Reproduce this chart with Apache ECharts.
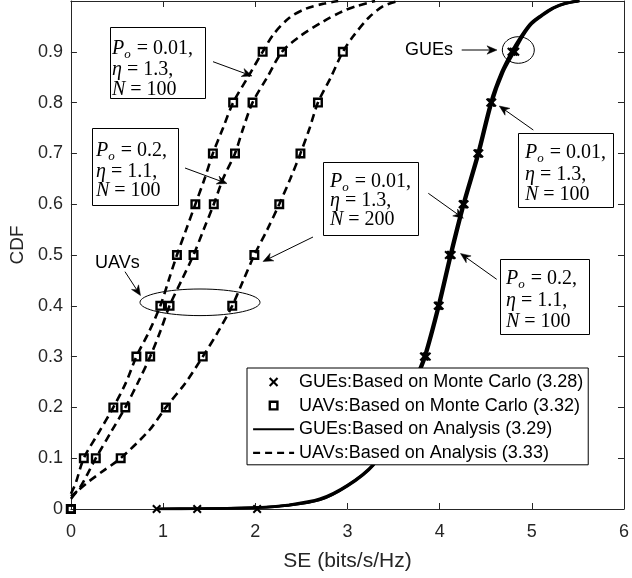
<!DOCTYPE html>
<html><head><meta charset="utf-8">
<script src="https://cdn.jsdelivr.net/npm/echarts@6/dist/echarts.min.js"></script>
<style>html,body{margin:0;padding:0;background:#fff}#c{width:632px;height:578px}</style>
</head><body><div id="c"></div>
<script>
// ---------------- data ----------------
const xTicks = [0, 1, 2, 3, 4, 5, 6];
const yTicks = [0, 0.1, 0.2, 0.3, 0.4, 0.5, 0.6, 0.7, 0.8, 0.9, 1];
const yTickLabels = ['0', '0.1', '0.2', '0.3', '0.4', '0.5', '0.6', '0.7', '0.8', '0.9', ''];

const legendNames = [
  'GUEs:Based on Monte Carlo (3.28)',
  'UAVs:Based on Monte Carlo (3.32)',
  'GUEs:Based on Analysis (3.29)',
  'UAVs:Based on Analysis (3.33)'
];

// Monte Carlo markers, UAVs (three parameter sets)
const uavMc1 = [[0,0],[0.14,0.1],[0.46,0.2],[0.71,0.3],[0.97,0.4],[1.15,0.5],[1.35,0.6],[1.54,0.7],[1.76,0.8],[2.08,0.9]];
const uavMc2 = [[0,0],[0.27,0.1],[0.59,0.2],[0.86,0.3],[1.07,0.4],[1.33,0.5],[1.55,0.6],[1.78,0.7],[1.97,0.8],[2.29,0.9]];
const uavMc3 = [[0,0],[0.54,0.1],[1.03,0.2],[1.43,0.3],[1.75,0.4],[1.99,0.5],[2.26,0.6],[2.49,0.7],[2.68,0.8],[2.95,0.9]];

// Analysis curves, UAVs
const uavAn1 = [[0,0.03],[0.05,0.05],[0.14,0.1],[0.3,0.15],[0.46,0.2],[0.6,0.25],[0.71,0.3],[0.85,0.35],[0.97,0.4],[1.06,0.45],[1.15,0.5],[1.25,0.55],[1.35,0.6],[1.45,0.65],[1.54,0.7],[1.65,0.75],[1.76,0.8],[1.92,0.85],[2.08,0.9],[2.2,0.935],[2.37,0.967],[2.55,0.985],[2.75,0.995],[2.9,1]];
const uavAn2 = [[0,0.025],[0.09,0.04],[0.27,0.1],[0.43,0.15],[0.59,0.2],[0.73,0.25],[0.86,0.3],[0.97,0.35],[1.07,0.4],[1.2,0.45],[1.33,0.5],[1.44,0.55],[1.55,0.6],[1.65,0.65],[1.78,0.7],[1.87,0.75],[1.97,0.8],[2.13,0.85],[2.29,0.9],[2.48,0.93],[2.74,0.96],[2.95,0.98],[3.1,0.99],[3.3,1]];
const uavAn3 = [[0,0.02],[0.07,0.035],[0.2,0.055],[0.35,0.075],[0.54,0.1],[0.85,0.155],[1.03,0.2],[1.25,0.25],[1.43,0.3],[1.6,0.35],[1.75,0.4],[1.87,0.45],[1.99,0.5],[2.13,0.55],[2.26,0.6],[2.38,0.65],[2.49,0.7],[2.59,0.75],[2.68,0.8],[2.82,0.85],[2.95,0.9],[3.06,0.93],[3.23,0.967],[3.39,0.99],[3.55,1]];

// Monte Carlo markers, GUEs
const gueMc1 = [[0.93,0],[3.34,0.1],[3.6,0.2],[3.84,0.3],[3.99,0.4],[4.12,0.5],[4.26,0.6],[4.42,0.7],[4.56,0.8],[4.8,0.9]];
const gueMc2 = [[1.37,0],[3.36,0.1],[3.62,0.2],[3.83,0.3],[3.98,0.4],[4.1,0.5],[4.25,0.6],[4.41,0.7],[4.55,0.8],[4.78,0.9]];
const gueMc3 = [[2.02,0],[3.38,0.1],[3.63,0.2],[3.86,0.3],[4.0,0.4],[4.13,0.5],[4.27,0.6],[4.43,0.7],[4.57,0.8],[4.82,0.9]];

// Analysis curves, GUEs
const gueAn1 = [[0.93,0],[1.37,0.0005],[2.02,0.003],[2.35,0.007],[2.7,0.018],[3.0,0.045],[3.28,0.086],[3.45,0.14],[3.6,0.2],[3.72,0.25],[3.83,0.3],[3.98,0.4],[4.11,0.5],[4.25,0.6],[4.41,0.7],[4.55,0.8],[4.67,0.86],[4.78,0.9],[4.88,0.93],[4.98,0.955],[5.1,0.972],[5.22,0.986],[5.35,0.995],[5.5,1]];
const gueAn2 = [[0.93,0],[1.37,0.0005],[2.02,0.003],[2.35,0.008],[2.7,0.02],[3.0,0.047],[3.28,0.088],[3.46,0.14],[3.61,0.2],[3.74,0.25],[3.85,0.3],[4.0,0.4],[4.13,0.5],[4.27,0.6],[4.43,0.7],[4.57,0.8],[4.69,0.86],[4.81,0.9],[4.9,0.93],[5.0,0.955],[5.12,0.972],[5.24,0.986],[5.37,0.995],[5.52,1]];
const gueAn3 = [[0.93,0],[1.37,0.0005],[2.02,0.003],[2.35,0.007],[2.7,0.018],[3.0,0.046],[3.28,0.087],[3.45,0.14],[3.6,0.2],[3.73,0.25],[3.84,0.3],[3.99,0.4],[4.12,0.5],[4.26,0.6],[4.42,0.7],[4.56,0.8],[4.68,0.86],[4.8,0.9],[4.89,0.93],[4.99,0.955],[5.11,0.972],[5.23,0.986],[5.36,0.995],[5.51,1]];

// ---------------- styles ----------------
const AX = '#262626';
const SANS = '"Liberation Sans", Arial, Helvetica, sans-serif';
const SERIF = '"Liberation Serif", "Times New Roman", serif';
const crossPath = 'path://M0,1.6 L1.6,0 L5,3.4 L8.4,0 L10,1.6 L6.6,5 L10,8.4 L8.4,10 L5,6.6 L1.6,10 L0,8.4 L3.4,5 Z';
const squarePath = 'path://M0,0 L10,0 L10,10 L0,10 Z M2.4,2.4 L2.4,7.6 L7.6,7.6 L7.6,2.4 Z';
const crossIcon = 'path://M-2.5,-2.5 M12.5,12.5 M0,1.6 L1.6,0 L5,3.4 L8.4,0 L10,1.6 L6.6,5 L10,8.4 L8.4,10 L5,6.6 L1.6,10 L0,8.4 L3.4,5 Z';
const squareIcon = 'path://M-2,-2 M12,12 M0,0 L10,0 L10,10 L0,10 Z M2.4,2.4 L2.4,7.6 L7.6,7.6 L7.6,2.4 Z';

function gueLine(d) {
  return {type:'line', name: legendNames[2], data: d, symbol:'none', showSymbol:false, smooth:0.3,
    lineStyle:{color:'#000', width:2.6, type:'solid'}, itemStyle:{color:'#000'}, z:2, silent:true};
}
function uavLine(d) {
  return {type:'line', name: legendNames[3], data: d, symbol:'none', showSymbol:false, smooth:0.3,
    lineStyle:{color:'#000', width:2.6, type:[8,5]}, itemStyle:{color:'#000'}, z:2, silent:true};
}
function gueMark(d) {
  return {type:'scatter', name: legendNames[0], data: d, symbol: crossPath, symbolSize: 9,
    itemStyle:{color:'#000', opacity:1}, z:3, silent:true};
}
function uavMark(d) {
  return {type:'scatter', name: legendNames[1], data: d, symbol: squarePath, symbolSize: 10,
    itemStyle:{color:'#000', opacity:1}, z:3, silent:true};
}

const chart = echarts.init(document.getElementById('c'), null, {renderer:'canvas'});

const axisCommon = {
  axisLine:{show:true, onZero:false, lineStyle:{color:AX, width:1}},
  axisTick:{show:true, inside:true, length:6, lineStyle:{color:AX, width:1}},
  splitLine:{show:false}
};
const noSym = {color:'rgba(0,0,0,0)', borderWidth:0, opacity:0};

const option = {
  animation:false,
  backgroundColor:'#fff',
  grid:{left:70, top:1, width:563, height:508, containLabel:false},
  xAxis:[
    Object.assign({type:'value', position:'bottom', min:xTicks[0], max:xTicks[xTicks.length-1], interval:1,
      name:'SE (bits/s/Hz)', nameLocation:'middle', nameGap:42,
      nameTextStyle:{color:AX, fontSize:21, fontFamily:SANS},
      axisLabel:{color:AX, fontSize:18, fontFamily:SANS, margin:14, formatter: v => String(v)}}, axisCommon),
    Object.assign({type:'value', position:'top', min:xTicks[0], max:xTicks[xTicks.length-1], interval:1,
      axisLabel:{show:false}}, axisCommon)
  ],
  yAxis:[
    Object.assign({type:'value', position:'left', min:0, max:1, interval:0.1,
      name:'CDF', nameLocation:'middle', nameGap:32, nameRotate:90,
      nameTextStyle:{color:AX, fontSize:19, fontFamily:SANS, padding:[0,0,0,20]},
      axisLabel:{color:AX, fontSize:18, fontFamily:SANS, margin:8,
        formatter: v => { const i = yTicks.findIndex(t => Math.abs(t - v) < 1e-6); return i >= 0 ? yTickLabels[i] : ''; }}}, axisCommon),
    Object.assign({type:'value', position:'right', min:0, max:1, interval:0.1,
      axisLabel:{show:false}}, axisCommon)
  ],
  legend:{
    show:true, orient:'vertical', left:247, top:368, z:10, zlevel:0,
    padding:[5, 5, 3, 5], itemGap:5.6, itemWidth:41, itemHeight:14,
    backgroundColor:'#fff', borderColor:'#000', borderWidth:1, borderRadius:0,
    textStyle:{color:'#000', fontSize:18, fontFamily:SANS, lineHeight:18},
    symbolKeepAspect:true,
    selectedMode:false,
    data:[
      {name:legendNames[0], icon:crossIcon},
      {name:legendNames[1], icon:squareIcon},
      {name:legendNames[2], itemStyle:noSym, lineStyle:{width:2, type:'solid', color:'#000'}},
      {name:legendNames[3], itemStyle:noSym, lineStyle:{width:2.2, type:[7,5], color:'#000'}}
    ]
  },
  series:[
    gueLine(gueAn1), gueLine(gueAn2), gueLine(gueAn3),
    uavLine(uavAn1), uavLine(uavAn2), uavLine(uavAn3),
    gueMark(gueMc1), gueMark(gueMc2), gueMark(gueMc3),
    uavMark(uavMc1), uavMark(uavMc2), uavMark(uavMc3)
  ]
};
chart.setOption(option);

// ---------------- annotations ----------------
const mctx = document.createElement('canvas').getContext('2d');
function mathLine(x, y, parts, size) {
  const els = [];
  let cx = x;
  parts.forEach(p => {
    const fs = p.sub ? Math.round(size * 0.66) : size;
    const fst = p.it ? 'italic' : 'normal';
    mctx.font = fst + ' ' + fs + 'px "Liberation Serif"';
    els.push({type:'text', z:100, style:{text:p.t, x:cx, y:y + (p.sub ? size * 0.3 : 0),
      fontSize:fs, fontFamily:SERIF, fontStyle:fst, fill:'#000', verticalAlign:'middle', align:'left'}});
    cx += mctx.measureText(p.t).width + (p.sub ? 1 : 0);
  });
  return els;
}
function box(x, y, w, h, textX, rowsY, rows, size) {
  const els = [{type:'rect', z:99, shape:{x:x+0.5, y:y+0.5, width:w, height:h},
    style:{fill:'#fff', stroke:'#000', lineWidth:1}}];
  rows.forEach((r, i) => { els.push(...mathLine(textX, rowsY[i], r, size)); });
  return els;
}
function arrow(x1, y1, x2, y2) {
  const dx = x2 - x1, dy = y2 - y1, L = Math.hypot(dx, dy);
  const ux = dx / L, uy = dy / L, px = -uy, py = ux;
  const hl = 10, hw = 4.2, nb = 7;
  const bx = x2 - ux * hl, by = y2 - uy * hl;
  const nx = x2 - ux * nb, ny = y2 - uy * nb;
  return [
    {type:'line', z:100, shape:{x1, y1, x2:nx, y2:ny}, style:{stroke:'#000', lineWidth:1}},
    {type:'polygon', z:100, shape:{points:[[x2,y2],[bx+px*hw,by+py*hw],[nx,ny],[bx-px*hw,by-py*hw]]},
      style:{fill:'#000', stroke:'#000', lineWidth:0.5}}
  ];
}
const rowsA = [[{t:'P',it:1},{t:'o',it:1,sub:1},{t:' = 0.01,'}], [{t:'η',it:1},{t:' = 1.3,'}], [{t:'N',it:1},{t:' = 100'}]];
const rowsB = [[{t:'P',it:1},{t:'o',it:1,sub:1},{t:' = 0.2,'}], [{t:'η',it:1},{t:' = 1.1,'}], [{t:'N',it:1},{t:' = 100'}]];
const rowsC = [[{t:'P',it:1},{t:'o',it:1,sub:1},{t:' = 0.01,'}], [{t:'η',it:1},{t:' = 1.3,'}], [{t:'N',it:1},{t:' = 200'}]];

const S = 20;
let g = [];
g.push(...box(110, 27, 95, 71, 112, [49, 70, 90], rowsA, S));
g.push(...arrow(213, 61.7, 252, 76));
g.push(...box(92, 128, 86, 77, 96, [151, 171.5, 191], rowsB, S));
g.push(...arrow(185, 168, 227, 183.5));
g.push(...box(323, 162, 95, 73, 330, [181.5, 201, 220], rowsC, S));
g.push(...arrow(313, 237, 263, 261.5));
g.push(...arrow(428.3, 193.3, 463.3, 218.3));
g.push(...box(518, 133, 95, 74, 525, [153, 174.5, 195], rowsA, S));
g.push(...arrow(533.3, 130, 499.3, 106));
g.push(...box(500, 259, 89, 75, 506, [279, 300.5, 321.5], rowsB, S));
g.push(...arrow(496.7, 279.3, 460.5, 253.5));
// GUEs label
g.push({type:'text', z:100, style:{text:'GUEs', x:405, y:50, fontSize:18, fontFamily:SANS, fill:'#000', verticalAlign:'middle'}});
g.push(...arrow(461.7, 50, 497, 50));
g.push({type:'ellipse', z:100, shape:{cx:518.3, cy:50, rx:16, ry:13.3}, style:{fill:'none', stroke:'#000', lineWidth:1}});
// UAVs label
g.push({type:'text', z:100, style:{text:'UAVs', x:95, y:263, fontSize:18, fontFamily:SANS, fill:'#000', verticalAlign:'middle'}});
g.push(...arrow(125, 271.7, 140.5, 295.5));
g.push({type:'ellipse', z:100, shape:{cx:200, cy:302.3, rx:60, ry:13.3}, style:{fill:'none', stroke:'#000', lineWidth:1}});

chart.setOption({graphic:{elements:g}});
</script>
</body></html>
